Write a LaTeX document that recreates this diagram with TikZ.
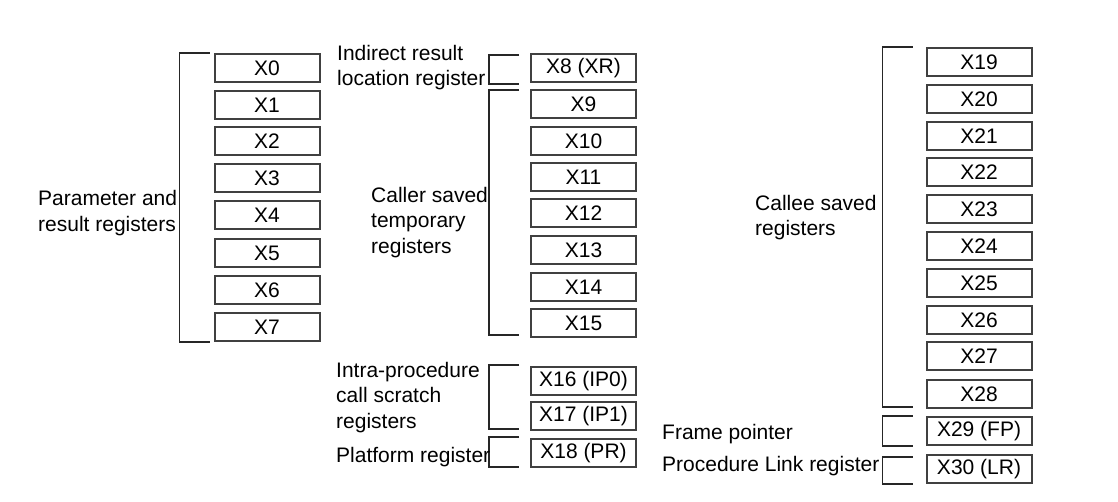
\documentclass[tikz,border=0pt]{standalone}
\usepackage{fontspec}
\setmainfont{Liberation Sans}
\newcommand{\regfont}{\fontsize{21}{24}\selectfont}
\newcommand{\lblfont}{\fontsize{21}{25.3}\selectfont}
\begin{document}
\begin{tikzpicture}[x=1pt,y=-1pt,
  reg/.style={draw=black!75, line width=2pt, minimum width=105pt, minimum height=28pt, inner sep=0pt, font=\regfont},
  lbl/.style={align=left, anchor=west, inner sep=0pt, font=\lblfont},
  brk/.style={draw=black!85, line width=1.5pt}]
\useasboundingbox[fill=white] (0,0) rectangle (1118,501);
% column 1
\foreach \n/\y in {0/68,1/105,2/141,3/178,4/215,5/253,6/290,7/327}
  \node[reg] (x\n) at (267,\y) {X\n};
% column 2
\node[reg] (x8) at (583.5,68) {X8 (XR)};
\foreach \n/\y in {9/104,10/141,11/177,12/213,13/250,14/287,15/323}
  \node[reg] (x\n) at (583.5,\y) {X\n};
\node[reg] (x16) at (583.5,381) {X16 (IP0)};
\node[reg] (x17) at (583.5,416) {X17 (IP1)};
\node[reg] (x18) at (583.5,453) {X18 (PR)};
% column 3
\foreach \n/\y in {19/62,20/99,21/136,22/172,23/209,24/246,25/283,26/320,27/356,28/394}
  \node[reg] (x\n) at (979,\y) {X\n};
\node[reg] (x29) at (979,431) {X29 (FP)};
\node[reg] (x30) at (979,469) {X30 (LR)};
% brackets
\draw[brk] ([xshift=-4pt]x0.north west) -- ++(-30,0) |- ([xshift=-4pt]x7.south west);
\draw[brk] ([shift={(-11pt,-2pt)}]x8.north west) -- ++(-30,0) |- ([shift={(-11pt,-1pt)}]x8.south west);
\draw[brk] ([shift={(-11pt,-1pt)}]x9.north west) -- ++(-30,0) |- ([shift={(-11pt,3pt)}]x15.south west);
\draw[brk] ([shift={(-11pt,1pt)}]x16.north west) -- ++(-30,0) |- ([shift={(-11pt,2pt)}]x17.south west);
\draw[brk] ([shift={(-11pt,1pt)}]x18.north west) -- ++(-30,0) |- ([shift={(-11pt,1pt)}]x18.south west);
\draw[brk] ([shift={(-13pt,0pt)}]x19.north west) -- ++(-30,0) |- ([shift={(-13pt,2pt)}]x28.south west);
\draw[brk] ([shift={(-13pt,0pt)}]x29.north west) -- ++(-30,0) |- ([shift={(-13pt,0pt)}]x29.south west);
\draw[brk] ([shift={(-13pt,-3pt)}]x30.north west) -- ++(-30,0) |- ([shift={(-13pt,0pt)}]x30.south west);
% labels
\node[lbl] (lpar) at (38,213) {Parameter and\\result registers};
\node[lbl] (lxr) at (337,67.5) {Indirect result\\location register};
\node[lbl] (lcaller) at (371,222.5) {Caller saved\\temporary\\registers};
\node[lbl] (lip) at (336,397.5) {Intra-procedure\\call scratch\\registers};
\node[lbl] (lpr) at (336,457.5) {Platform register};
\node[lbl] (lcallee) at (755,217.5) {Callee saved\\registers};
\node[lbl] (lfp) at (662,434.5) {Frame pointer};
\node[lbl] (llr) at (662,466.5) {Procedure Link register};
\end{tikzpicture}
\end{document}
